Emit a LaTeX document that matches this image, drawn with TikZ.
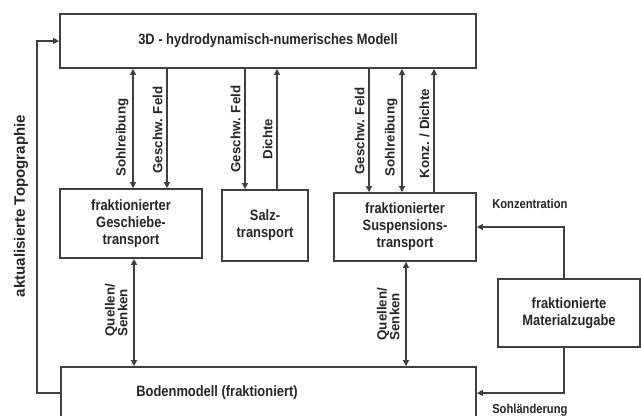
\documentclass[tikz,border=0pt]{standalone}
\usepackage{fontspec}
\setmainfont{Liberation Sans}
\newfontfamily\schmal[FakeStretch=0.86]{Liberation Sans}
\usetikzlibrary{arrows.meta}

\tikzset{
    box/.style={draw=black!75, line width=1.3pt, inner sep=0pt, align=center,
        text=black!85, font=\schmal\bfseries\fontsize{11.25}{12.75}\selectfont},
    verb/.style={draw=black!75, line width=0.9pt},
    lbl/.style={rotate=90, inner sep=1pt, text=black!85,
        font=\bfseries\fontsize{10}{9.5}\selectfont},
    klein/.style={inner sep=0pt, text=black!85,
        font=\schmal\bfseries\fontsize{9.75}{11}\selectfont}
}

\begin{document}
\begin{tikzpicture}[x=0.75pt, y=0.75pt, >={Triangle[length=4.5pt,width=4.5pt]}]
    \clip (0,0) rectangle (641,-416); % picture size

    % boxes
    \node[box, minimum width=312pt, minimum height=40.5pt] (model) at (268,-41)
        {3D - hydrodynamisch-numerisches Modell};
    \node[box, minimum width=106.5pt, minimum height=51.75pt] (geschiebe) at (131,-223.5)
        {fraktionierter\\Geschiebe-\\transport};
    \node[box, minimum width=64.5pt, minimum height=53.25pt] (salz) at (265,-225.5)
        {Salz-\\transport};
    \node[box, minimum width=106.5pt, minimum height=51pt] (susp) at (405,-227)
        {fraktionierter\\Suspensions-\\transport};
    \node[box, minimum width=106.5pt, minimum height=51pt] (material) at (569,-313)
        {fraktionierte\\Materialzugabe};
    \node[box, minimum width=311.25pt, minimum height=60pt] (boden) at (268.5,-407) {};
    \node[box, draw=none] (bodentext) at (217,-393) {Bodenmodell (fraktioniert)};

    % coupling with the flow model
    \foreach \xx/\ziel/\pfeil/\yy/\txt in {133/geschiebe/<->/178/Sohlreibung,
        167/geschiebe/->/175/Geschw. Feld, 245/salz/->/174/Geschw. Feld,
        277/salz/<-/161/Dichte, 369/susp/->/176/Geschw. Feld,
        402/susp/<->/178/Sohlreibung, 434/susp/<-/180/{Konz. / Dichte}}{
        \draw[verb,\pfeil] (model.south -| \xx,0) -- (\ziel.north -| \xx,0);
        \node[lbl, anchor=south west] (lbl\xx) at (\xx-3,-\yy) {\txt};
    };

    % sources / sinks
    \draw[verb,<->] (geschiebe.south -| 134,0) -- (boden.north -| 134,0);
    \draw[verb,<->] (susp.south -| 406,0) -- (boden.north -| 406,0);
    \node[lbl, align=left, anchor=south west] (quelleg) at (129,-338) {Quellen/\\Senken};
    \node[lbl, align=left, anchor=south west] (quelles) at (401,-342) {Quellen/\\Senken};

    % feedback of the topography
    \coordinate (topo) at (37,-41);
    \draw[verb,->] (boden.west |- bodentext) -| (topo) -- (model.west);
    \node[rotate=90, text=black!85, font=\bfseries\fontsize{11.3}{13}\selectfont]
        (topotext) at (21,-206) {aktualisierte Topographie};

    % material input
    \draw[verb,->] ([xshift=-3.75pt]material.north) |- (susp.east);
    \draw[verb,->] ([xshift=-3.75pt]material.south) |- (boden.east |- bodentext);
    \node[klein, anchor=west] (konz) at (492,-204) {Konzentration};
    \node[klein, anchor=west] (sohl) at (492,-410) {Sohländerung};
\end{tikzpicture}
\end{document}
